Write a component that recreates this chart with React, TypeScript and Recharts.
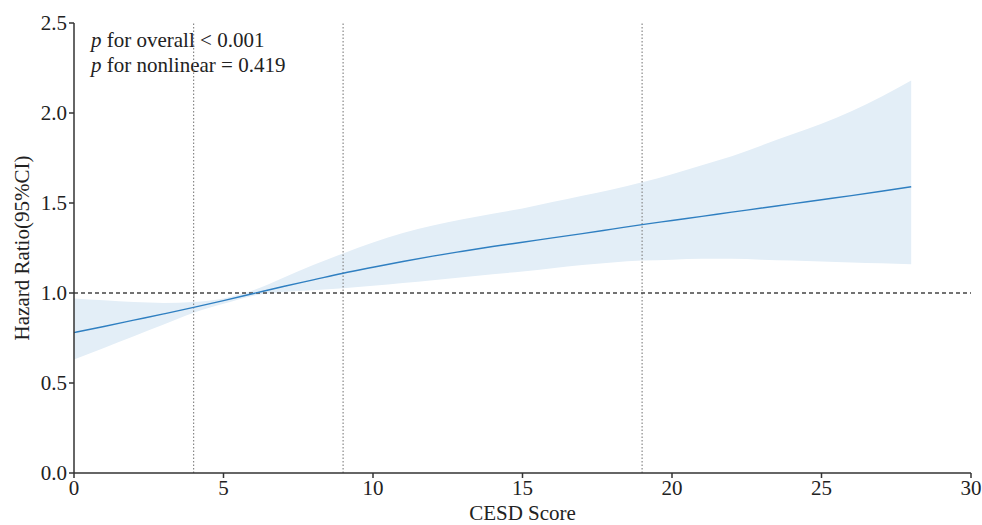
import React from "react"
import {
  ComposedChart,
  Area,
  Line,
  XAxis,
  YAxis,
  ReferenceLine,
  Customized,
} from "recharts"

// CESD score grid and fitted hazard ratio with 95% CI
const cesd = [0, 1, 2, 3, 4, 5, 6, 7, 8, 9, 10, 11, 12, 13, 14, 15, 16, 17, 18, 19, 20, 21, 22, 23, 24, 25, 26, 27, 28]
const hr = [0.78, 0.814, 0.849, 0.884, 0.92, 0.958, 0.997, 1.036, 1.073, 1.11, 1.143, 1.175, 1.205, 1.232, 1.258, 1.282, 1.306, 1.33, 1.355, 1.38, 1.403, 1.426, 1.449, 1.472, 1.495, 1.518, 1.541, 1.565, 1.59]
const lower = [0.63, 0.695, 0.76, 0.825, 0.89, 0.94, 0.985, 1.005, 1.015, 1.027, 1.04, 1.055, 1.071, 1.088, 1.104, 1.12, 1.138, 1.155, 1.17, 1.18, 1.185, 1.19, 1.19, 1.185, 1.18, 1.175, 1.17, 1.165, 1.16]
const upper = [0.97, 0.96, 0.95, 0.945, 0.95, 0.97, 1.015, 1.085, 1.155, 1.22, 1.28, 1.333, 1.375, 1.41, 1.44, 1.47, 1.505, 1.54, 1.575, 1.615, 1.66, 1.71, 1.76, 1.82, 1.88, 1.94, 2.01, 2.09, 2.18]
const knots = [4, 9, 19]
const xTicks = [0, 5, 10, 15, 20, 25, 30]
const yTicks = [0, 0.5, 1, 1.5, 2, 2.5]

const data = cesd.map((x, i) => ({ x, hr: hr[i], ci: [lower[i], upper[i]] }))

const font = "'Liberation Serif', 'Times New Roman', serif"
const tickStyle = { fontFamily: font, fontSize: 21, fill: "#222" }

function Annotation() {
  return (
    <text fontFamily={font} fontSize={21} fill="#222">
      <tspan x={91} y={47}>
        <tspan fontStyle="italic">p</tspan> for overall &lt; 0.001
      </tspan>
      <tspan x={91} y={72}>
        <tspan fontStyle="italic">p</tspan> for nonlinear = 0.419
      </tspan>
    </text>
  )
}

export default function App() {
  return (
    <div style={{ position: "absolute", left: 0, top: 0, background: "#fff" }}>
      <ComposedChart width={982} height={525} data={data} margin={{ top: 23, right: 11, bottom: 12, left: 14 }}>
        <XAxis
          type="number"
          dataKey="x"
          domain={[0, 30]}
          ticks={xTicks}
          height={40}
          tick={tickStyle}
          tickSize={5}
          stroke="#333"
          strokeWidth={1.5}
          label={{ value: "CESD Score", position: "insideBottom", offset: -7, style: { ...tickStyle, textAnchor: "middle" } }}
        />
        <YAxis
          type="number"
          domain={[0, 2.5]}
          ticks={yTicks}
          width={60}
          tick={tickStyle}
          tickSize={5}
          tickFormatter={(v: number) => v.toFixed(1)}
          stroke="#333"
          strokeWidth={1.5}
          label={{ value: "Hazard Ratio(95%CI)", angle: -90, position: "insideLeft", offset: 8, style: { ...tickStyle, textAnchor: "middle" } }}
        />
        <Area
          type="monotone"
          dataKey="ci"
          stroke="none"
          fill="#e3eef7"
          fillOpacity={1}
          isAnimationActive={false}
        />
        {knots.map((k) => (
          <ReferenceLine key={k} x={k} stroke="#888" strokeWidth={1.2} strokeDasharray="1.5 2" />
        ))}
        <ReferenceLine y={1} stroke="#444" strokeWidth={1.3} strokeDasharray="4 3" />
        <Line
          type="monotone"
          dataKey="hr"
          stroke="#2f7fc1"
          strokeWidth={1.4}
          dot={false}
          isAnimationActive={false}
        />
        <Customized component={Annotation} />
      </ComposedChart>
    </div>
  )
}
